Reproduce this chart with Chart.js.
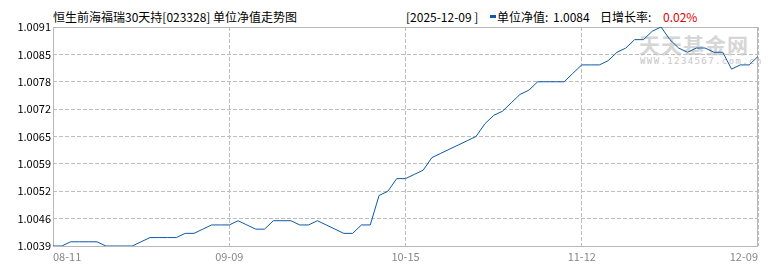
<!DOCTYPE html>
<html>
<head>
<meta charset="utf-8">
<script src="https://cdn.jsdelivr.net/npm/chart.js@4.4.1/dist/chart.umd.min.js"></script>
<style>
body { margin: 0; background: #fff; }
#wrap { position: relative; width: 770px; height: 270px; font-family: "Noto Sans CJK SC", sans-serif; font-size: 12px; color: #000; }
#wrap span, #wrap div.t { position: absolute; line-height: 13px; white-space: nowrap; }
#chart { position: absolute; left: 0; top: 0; z-index: 2; }
.wm { position: absolute; z-index: 1; white-space: nowrap; }
</style>
</head>
<body>
<div id="wrap">
    <div class="wm" style="left:639px;top:32px;font-size:21px;font-weight:bold;color:#d6d6d6;letter-spacing:1px;line-height:24px;">天天基金网</div>
    <div class="wm" style="left:640px;top:56px;font-size:9px;color:#c6c6c6;letter-spacing:1.4px;font-family:'DejaVu Sans Mono',monospace;line-height:11px;">WWW.1234567.com.cn</div>
    <span style="left:53px;top:10px;">恒生前海福瑞30天持[023328] 单位净值走势图</span>
    <span style="left:406px;top:10px;">[2025-12-09 ]</span>
    <span style="left:490px;top:15px;width:6px;height:3px;background:#0b5aa8;"></span>
    <span style="left:497px;top:10px;">单位净值:</span>
    <span style="left:553px;top:10px;">1.0084</span>
    <span style="left:600px;top:10px;">日增长率:</span>
    <span style="left:663px;top:10px;color:#e00000;">0.02%</span>
    <canvas id="chart" width="770" height="270"></canvas>
</div>
<script>
const dates = [
    '08-11','08-12','08-13','08-14','08-18','08-19','08-20','08-21','08-22','08-25',
    '08-26','08-27','08-28','08-29','09-01','09-02','09-03','09-04','09-05','09-08',
    '09-09','09-10','09-11','09-12','09-15','09-16','09-17','09-18','09-19','09-22',
    '09-23','09-24','09-25','09-26','09-29','09-30','10-09','10-10','10-13','10-14',
    '10-15','10-16','10-17','10-20','10-21','10-22','10-23','10-24','10-27','10-28',
    '10-29','10-30','10-31','11-03','11-04','11-05','11-06','11-07','11-10','11-11',
    '11-12','11-13','11-14','11-17','11-18','11-19','11-20','11-21','11-24','11-25',
    '11-26','11-27','11-28','11-30','12-01','12-02','12-03','12-04','12-05','12-08',
    '12-09'
];

const nav = [
    1.0039, 1.0039, 1.0040, 1.0040, 1.0040, 1.0040, 1.0039, 1.0039, 1.0039, 1.0039,
    1.0040, 1.0041, 1.0041, 1.0041, 1.0041, 1.0042, 1.0042, 1.0043, 1.0044, 1.0044,
    1.0044, 1.0045, 1.0044, 1.0043, 1.0043, 1.0045, 1.0045, 1.0045, 1.0044, 1.0044,
    1.0045, 1.0044, 1.0043, 1.0042, 1.0042, 1.0044, 1.0044, 1.0051, 1.0052, 1.0055,
    1.0055, 1.0056, 1.0057, 1.0060, 1.0061, 1.0062, 1.0063, 1.0064, 1.0065, 1.0068,
    1.0070, 1.0071, 1.0073, 1.0075, 1.0076, 1.0078, 1.0078, 1.0078, 1.0078, 1.0080,
    1.0082, 1.0082, 1.0082, 1.0083, 1.0085, 1.0086, 1.0088, 1.0088, 1.0090, 1.0091,
    1.0088, 1.0086, 1.0085, 1.0086, 1.0086, 1.0085, 1.0085, 1.0081, 1.0082, 1.0082,
    1.0084
];

const xTickLabels = ['08-11', '09-09', '10-15', '11-12', '12-09'];
const yTickLabels = ['1.0039', '1.0046', '1.0052', '1.0059', '1.0065', '1.0072', '1.0078', '1.0085', '1.0091'];
const yMin = 1.0039;
const yMax = 1.0091;

const gridColor = '#bdbdbd';
const font = { family: '"Noto Sans CJK SC", sans-serif', size: 11 };

// solid frame round the plot area
const frame = {
    id: 'frame',
    beforeDatasetsDraw(chart) {
        const a = chart.chartArea, ctx = chart.ctx;
        ctx.save();
        ctx.strokeStyle = '#b8b8b8';
        ctx.lineWidth = 1;
        ctx.strokeRect(a.left + 0.5, a.top + 0.5, a.right - a.left - 1, a.bottom - a.top);
        ctx.restore();
    }
};

new Chart(document.getElementById('chart'), {
    type: 'line',
    data: {
        labels: dates,
        datasets: [{
            label: '单位净值',
            data: nav,
            borderColor: '#0b5aa8',
            borderWidth: 1,
            pointRadius: 0,
            tension: 0,
            fill: false
        }]
    },
    options: {
        responsive: false,
        animation: false,
        layout: { padding: { top: 27, right: 12, left: 0, bottom: 0 } },
        plugins: { legend: { display: false }, tooltip: { enabled: false } },
        scales: {
            x: {
                type: 'category',
                offset: false,
                afterBuildTicks: s => {
                    s.ticks = xTickLabels.map(l => ({ value: dates.indexOf(l) }));
                },
                afterFit: s => { s.height = 24; },
                ticks: { align: 'inner', autoSkip: false, maxRotation: 0, color: '#888', font: font, padding: 4 },
                grid: { color: gridColor, drawTicks: false },
                border: { display: false, dash: [4, 2] }
            },
            y: {
                min: yMin,
                max: yMax,
                afterBuildTicks: s => {
                    const n = yTickLabels.length - 1;
                    s.ticks = yTickLabels.map((l, i) => ({ value: yMin + i * (yMax - yMin) / n }));
                },
                afterFit: s => { s.width = 53; },
                ticks: { callback: (v, i) => yTickLabels[i], color: '#000', font: font, padding: 2 },
                grid: { color: gridColor, drawTicks: false },
                border: { display: false, dash: [4, 2] }
            }
        }
    },
    plugins: [frame]
});
</script>
</body>
</html>
